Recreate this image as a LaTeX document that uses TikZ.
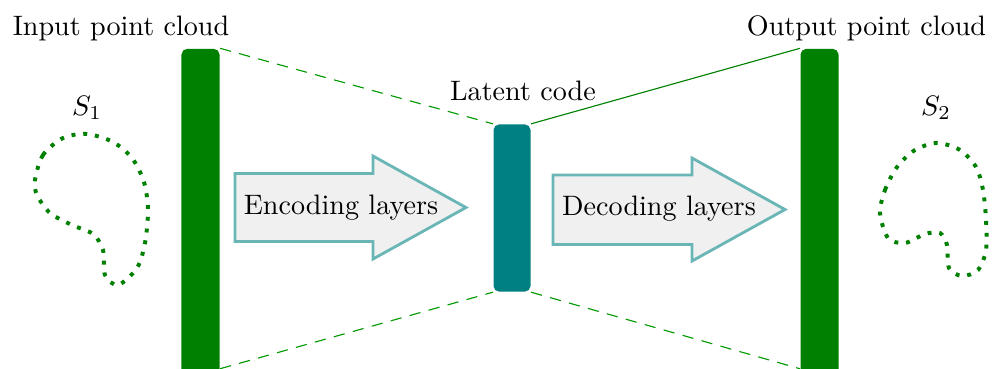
\documentclass[tikz,border=0pt]{standalone}
\usepackage{tikz}
\usetikzlibrary{positioning}
\usepackage{xcolor}
\definecolor{cloudgreen}{HTML}{008000}
\definecolor{codeteal}{HTML}{008080}
\definecolor{arrowedge}{HTML}{6AB6B6}
\definecolor{arrowfill}{HTML}{F0F0F0}
\tikzset{
  bar/.style={fill=cloudgreen, rounded corners=2pt, inner sep=0pt, minimum width=0.475cm, minimum height=4.09cm},
  latentbar/.style={bar, fill=codeteal, minimum width=0.4625cm, minimum height=2.09cm},
  layerarrow/.style={draw=arrowedge, fill=arrowfill, line width=1pt},
  cloud/.style={draw=cloudgreen, line width=1.4pt, dash pattern=on 1.4pt off 2.8pt},
  guide/.style={draw=green!60!black, dash pattern=on 4pt off 3pt},
  link/.style={draw=cloudgreen, thin},
  caption/.style={anchor=base, inner sep=0pt}
}
\begin{document}
\begin{tikzpicture}[x=0.0125cm, y=-0.0125cm]
  \useasboundingbox (0,0) rectangle (1003,368);
  \clip (0,0) rectangle (1003,368);

  % the three bars
  \node[bar] (incloud) at (200.5,212.5) {};
  \node[latentbar] (latent) at (512,208) {};
  \node[bar] (outcloud) at (819.5,212.5) {};

  % guides between the bars
  \draw[guide] (incloud.north east) -- (latent.north west);
  \draw[guide] ([yshift=0.1cm]incloud.south east) -- (latent.south west);
  \draw[link] (latent.north east) -- (outcloud.north west);
  \draw[guide] (latent.south east) -- ([yshift=0.1cm]outcloud.south west);

  % layer arrows
  \filldraw[layerarrow] (235,173.5) -- (373,173.5) -- (373,156) -- (466,207.5) -- (373,259) -- (373,241.5) -- (235,241.5) -- cycle;
  \filldraw[layerarrow] (553,175) -- (692,175) -- (692,158) -- (785,209.5) -- (692,261) -- (692,244.5) -- (553,244.5) -- cycle;
  \node (enc) at (341,208) {Encoding layers};
  \node (dec) at (659,209) {Decoding layers};

  % captions
  \node[caption] (inlabel) at (121,35) {Input point cloud};
  \node[caption] (outlabel) at (866.5,35) {Output point cloud};
  \node[caption] (latentlabel) at (523,100) {Latent code};
  \node[caption] (s1) at (87,115) {$S_1$};
  \node[caption] (s2) at (936,115) {$S_2$};

  % point clouds
  \draw[cloud] plot[smooth cycle] coordinates {(35,180) (43,155) (63,138) (87,134) (113,142) (132,158) (144,182) (148,210) (145,243) (137,268) (118,285) (105,275) (103,250) (93,234) (72,225) (50,213) (37,195)};
  \draw[cloud] plot[smooth cycle] coordinates {(880,213) (885,190) (897,167) (915,150) (937,143) (960,150) (976,167) (983,190) (986,220) (986,250) (978,270) (962,276) (949,268) (947,245) (940,233) (925,234) (905,243) (888,238)};
\end{tikzpicture}
\end{document}
